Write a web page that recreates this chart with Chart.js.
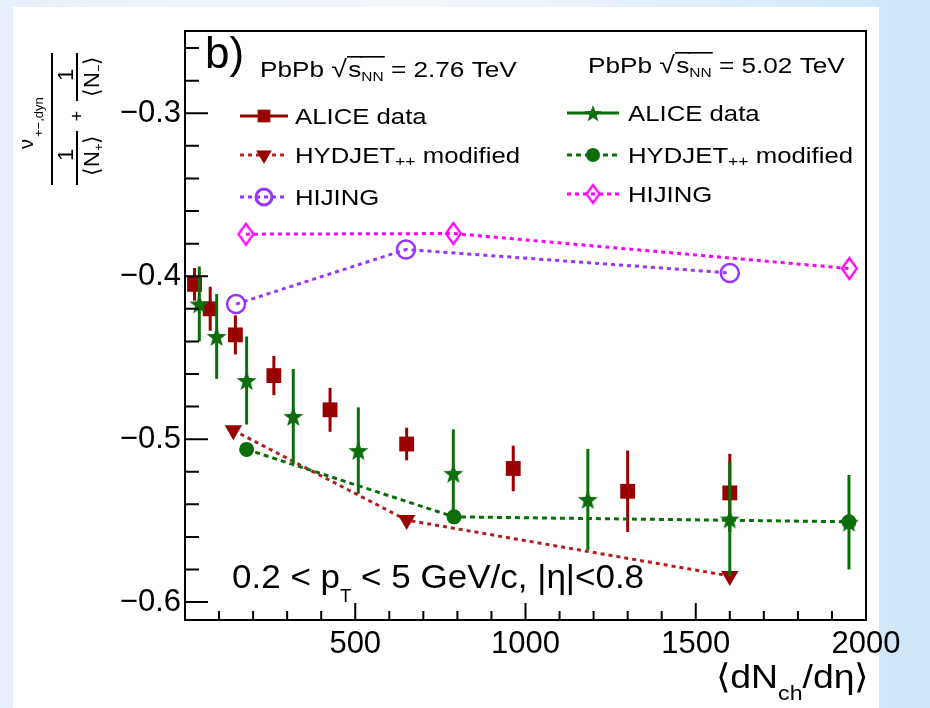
<!DOCTYPE html>
<html>
<head>
<meta charset="utf-8">
<script src="https://cdn.jsdelivr.net/npm/chart.js@4.4.1/dist/chart.umd.min.js"></script>
<style>
  body { margin: 0; width: 930px; height: 708px; position: relative; overflow: hidden;
         background: linear-gradient(90deg, #e6f0fa 0%, #f4f8fd 45%, #cfe6f8 100%); }
  #panel { position: absolute; left: 13px; top: 7px; width: 866px; height: 701px; background: #fff; }
  #chart { position: absolute; left: 0; top: 0; }
</style>
</head>
<body>
<div id="panel"></div>
<canvas id="chart" width="930" height="708"></canvas>
<script>
'use strict';

var FONT = "'Liberation Sans', Arial, sans-serif";

// axes
var xRange = [0, 2000];
var yRange = [-0.611, -0.2495];
var xTicks = [500, 1000, 1500, 2000];
var yTicks = [-0.3, -0.4, -0.5, -0.6];
var xMinorStep = 100;
var yMinorStep = 0.02;

// PbPb 2.76 TeV
var alice276X = [28, 74, 148, 261, 426, 651, 964, 1300, 1600];
var alice276Y = [-0.405, -0.420, -0.436, -0.461, -0.482, -0.503, -0.518, -0.532, -0.533];
var alice276Err = [0.010, 0.0135, 0.012, 0.012, 0.0135, 0.010, 0.014, 0.025, 0.024];
var hydjet276X = [142, 651, 1600];
var hydjet276Y = [-0.4946, -0.5497, -0.5840];
var hijing276X = [150, 649, 1600];
var hijing276Y = [-0.4171, -0.3836, -0.3980];

// PbPb 5.02 TeV
var alice502X = [42, 93, 181, 318, 509, 788, 1183, 1600, 1950];
var alice502Y = [-0.417, -0.437, -0.464, -0.486, -0.507, -0.521, -0.537, -0.549, -0.551];
var alice502Err = [0.023, 0.026, 0.027, 0.029, 0.0265, 0.027, 0.031, 0.035, 0.029];
var hydjet502X = [181, 790, 1950];
var hydjet502Y = [-0.5063, -0.5477, -0.5507];
var hijing502X = [179, 788, 1951];
var hijing502Y = [-0.3742, -0.3738, -0.3953];

var RED = '#990000', GREEN = '#0b6e0b', VIOLET = '#9933ff', MAGENTA = '#ff00ff';

function pts(xs, ys) {
  return xs.map(function(x, i) { return { x: x, y: ys[i] }; });
}

function makeStar(color, r) {
  var c = document.createElement('canvas');
  var s = Math.ceil(r * 2 + 2);
  c.width = s; c.height = s;
  var g = c.getContext('2d');
  g.fillStyle = color;
  g.beginPath();
  for (var i = 0; i < 10; i++) {
    var rr = i % 2 ? r * 0.42 : r;
    var a = -Math.PI / 2 + i * Math.PI / 5;
    g.lineTo(s / 2 + rr * Math.cos(a), s / 2 + 1 + rr * Math.sin(a));
  }
  g.closePath();
  g.fill();
  return c;
}

function makeDiamond(color, w, h) {
  var c = document.createElement('canvas');
  c.width = w + 4; c.height = h + 4;
  var g = c.getContext('2d');
  g.strokeStyle = color;
  g.lineWidth = 2.2;
  g.beginPath();
  g.moveTo(c.width / 2, 2);
  g.lineTo(c.width - 2, c.height / 2);
  g.lineTo(c.width / 2, c.height - 2);
  g.lineTo(2, c.height / 2);
  g.closePath();
  g.stroke();
  return c;
}

var starImg = makeStar(GREEN, 10.5);
var starSmall = makeStar(GREEN, 9);
var diamondImg = makeDiamond(MAGENTA, 15, 21);
var diamondSmall = makeDiamond(MAGENTA, 13, 18);

var datasets = [
  { label: 'HYDJET++ modified 5.02', data: pts(hydjet502X, hydjet502Y), order: 0, showLine: true,
    borderColor: GREEN, backgroundColor: GREEN, borderWidth: 3, borderDash: [5, 4],
    pointStyle: 'circle', pointRadius: 7.5, pointBorderWidth: 0 },
  { label: 'ALICE data 5.02', data: pts(alice502X, alice502Y), errors: alice502Err, order: 1,
    borderColor: GREEN, backgroundColor: GREEN, pointStyle: starImg, pointRadius: 10 },
  { label: 'ALICE data 2.76', data: pts(alice276X, alice276Y), errors: alice276Err, order: 2,
    borderColor: RED, backgroundColor: RED, pointStyle: 'rect', pointRadius: 10.5, pointBorderWidth: 0 },
  { label: 'HYDJET++ modified 2.76', data: pts(hydjet276X, hydjet276Y), order: 3, showLine: true,
    borderColor: '#b01e1e', backgroundColor: RED, pointBorderColor: RED, borderWidth: 3, borderDash: [4, 4],
    pointStyle: 'triangle', pointRotation: 180, pointRadius: 10, pointBorderWidth: 0 },
  { label: 'HIJING 2.76', data: pts(hijing276X, hijing276Y), order: 4, showLine: true,
    borderColor: VIOLET, backgroundColor: 'rgba(0,0,0,0)', borderWidth: 3, borderDash: [4, 4],
    pointStyle: 'circle', pointRadius: 9, pointBorderWidth: 2.5, pointBorderColor: VIOLET },
  { label: 'HIJING 5.02', data: pts(hijing502X, hijing502Y), order: 5, showLine: true,
    borderColor: MAGENTA, backgroundColor: 'rgba(0,0,0,0)', borderWidth: 3, borderDash: [4, 4],
    pointStyle: diamondImg, pointRadius: 10 }
];

// draws text pieces one after another, stretched horizontally by sx
function drawRich(ctx, x, y, parts, sx) {
  ctx.save();
  ctx.translate(x, y);
  ctx.scale(sx || 1, 1);
  ctx.textAlign = 'left';
  ctx.textBaseline = 'alphabetic';
  var cx = 0;
  parts.forEach(function(p) {
    ctx.font = p.size + 'px ' + FONT;
    var w = ctx.measureText(p.t).width;
    ctx.fillText(p.t, cx, p.dy || 0);
    if (p.over !== undefined) ctx.fillRect(cx - 1, p.over, w + 2, 1.6);
    cx += w + (p.gap || 0);
  });
  ctx.restore();
}

function legendEntry(ctx, x0, x1, y, color, dash, marker, text, textX) {
  ctx.save();
  ctx.strokeStyle = color;
  ctx.lineWidth = 3;
  ctx.setLineDash(dash);
  ctx.beginPath();
  ctx.moveTo(x0, y);
  ctx.lineTo(x1, y);
  ctx.stroke();
  ctx.setLineDash([]);
  ctx.fillStyle = marker.fill;
  ctx.strokeStyle = color;
  Chart.helpers.drawPoint(ctx, marker, (x0 + x1) / 2, y);
  ctx.restore();
  ctx.fillStyle = '#000';
  drawRich(ctx, textX, y + 8, text, 1.17);
}

function header(ctx, x, y, energy) {
  drawRich(ctx, x, y, [
    { t: 'PbPb ', size: 22 },
    { t: '\u221A', size: 24, gap: 1 },
    { t: 's', size: 22, over: -21 },
    { t: 'NN', size: 13, dy: 4, over: -21 },
    { t: ' = ' + energy + ' TeV', size: 22 }
  ], 1.19);
}

function drawYTitle(ctx) {
  ctx.save();
  ctx.translate(52, 119);
  ctx.rotate(-Math.PI / 2);
  ctx.fillStyle = '#000';
  ctx.strokeStyle = '#000';
  ctx.lineWidth = 2;
  ctx.beginPath();
  ctx.moveTo(-66, 0); ctx.lineTo(66, 0);
  ctx.moveTo(-66, 25); ctx.lineTo(-12, 25);
  ctx.moveTo(18, 25); ctx.lineTo(66, 25);
  ctx.stroke();
  ctx.textBaseline = 'alphabetic';
  ctx.textAlign = 'left';
  ctx.font = '20px ' + FONT;
  ctx.fillText('\u03BD', -30, -19);
  ctx.font = '13px ' + FONT;
  ctx.fillText('+\u2212,dyn', -18, -9);
  ctx.textAlign = 'center';
  ctx.font = '22px ' + FONT;
  ctx.fillText('1', -36, 21);
  ctx.fillText('1', 44, 21);
  ctx.font = '18px ' + FONT;
  ctx.fillText('+', 3, 31);
  ctx.restore();
  // denominators
  ctx.save();
  ctx.translate(52, 119);
  ctx.rotate(-Math.PI / 2);
  drawRich(ctx, -57, 47, [
    { t: '\u27E8N', size: 22 }, { t: '+', size: 13, dy: 4 }, { t: '\u27E9', size: 22 }
  ], 1);
  drawRich(ctx, 22, 47, [
    { t: '\u27E8N', size: 22 }, { t: '\u2212', size: 13, dy: 4 }, { t: '\u27E9', size: 22 }
  ], 1);
  ctx.restore();
}

var errorBars = {
  id: 'errorBars',
  afterDatasetDraw: function(chart, args) {
    var ds = chart.data.datasets[args.index];
    if (!ds.errors) return;
    var ctx = chart.ctx, xs = chart.scales.x, ys = chart.scales.y;
    ctx.save();
    ctx.strokeStyle = ds.borderColor;
    ctx.lineWidth = 3;
    ds.data.forEach(function(p, i) {
      var px = xs.getPixelForValue(p.x);
      ctx.beginPath();
      ctx.moveTo(px, ys.getPixelForValue(p.y - ds.errors[i]));
      ctx.lineTo(px, ys.getPixelForValue(p.y + ds.errors[i]));
      ctx.stroke();
    });
    ctx.restore();
  }
};

var frame = {
  id: 'frame',
  afterDraw: function(chart) {
    var ctx = chart.ctx, a = chart.chartArea, xs = chart.scales.x, ys = chart.scales.y;
    var v, p;
    ctx.save();
    ctx.strokeStyle = '#000';
    ctx.lineWidth = 2;
    ctx.strokeRect(a.left, a.top, a.right - a.left, a.bottom - a.top);
    ctx.beginPath();
    for (v = xRange[0] + xMinorStep; v < xRange[1]; v += xMinorStep) {
      p = xs.getPixelForValue(v);
      var major = Math.round(v) % 500 === 0;
      ctx.moveTo(p, a.bottom);
      ctx.lineTo(p, a.bottom - (major ? 17 : 9));
    }
    for (v = -0.6; v <= yRange[1]; v += yMinorStep) {
      p = ys.getPixelForValue(v);
      var majorY = Math.abs(Math.round(v * 10) - v * 10) < 1e-6;
      ctx.moveTo(a.left, p);
      ctx.lineTo(a.left + (majorY ? 23 : 14), p);
    }
    ctx.stroke();
    ctx.restore();

    ctx.save();
    ctx.fillStyle = '#000';
    ctx.font = '44px ' + FONT;
    ctx.fillText('b)', 205, 68);
    header(ctx, 260, 77, '2.76');
    header(ctx, 588, 73, '5.02');

    var lx0 = 240, lx1 = 288, ltx = 295;
    legendEntry(ctx, lx0, lx1, 116, RED, [], { pointStyle: 'rect', radius: 9, borderWidth: 0, fill: RED },
      [{ t: 'ALICE data', size: 22 }], ltx);
    legendEntry(ctx, lx0, lx1, 155, '#b01e1e', [4, 4], { pointStyle: 'triangle', rotation: 180, radius: 9, borderWidth: 0, fill: RED },
      [{ t: 'HYDJET', size: 22 }, { t: '++', size: 15, dy: 3 }, { t: ' modified', size: 22 }], ltx);
    legendEntry(ctx, lx0, lx1, 197, VIOLET, [4, 4], { pointStyle: 'circle', radius: 8, borderWidth: 2.5, fill: 'rgba(0,0,0,0)' },
      [{ t: 'HIJING', size: 22 }], ltx);

    var rx0 = 567, rx1 = 619, rtx = 628;
    legendEntry(ctx, rx0, rx1, 113, GREEN, [], { pointStyle: starSmall, radius: 9, borderWidth: 0, fill: GREEN },
      [{ t: 'ALICE data', size: 22 }], rtx);
    legendEntry(ctx, rx0, rx1, 155, GREEN, [5, 4], { pointStyle: 'circle', radius: 7, borderWidth: 0, fill: GREEN },
      [{ t: 'HYDJET', size: 22 }, { t: '++', size: 15, dy: 3 }, { t: ' modified', size: 22 }], rtx);
    legendEntry(ctx, rx0, rx1, 194, MAGENTA, [4, 4], { pointStyle: diamondSmall, radius: 9, borderWidth: 0, fill: MAGENTA },
      [{ t: 'HIJING', size: 22 }], rtx);

    drawRich(ctx, 232, 588, [
      { t: '0.2 < p', size: 34 },
      { t: 'T', size: 18, dy: 14 },
      { t: ' < 5 GeV/c, |\u03B7|<0.8', size: 34 }
    ], 1.03);

    drawRich(ctx, 716, 688, [
      { t: '\u27E8dN', size: 34 },
      { t: 'ch', size: 21, dy: 12 },
      { t: '/d\u03B7\u27E9', size: 34 }
    ], 1.1);

    drawYTitle(ctx);
    ctx.restore();
  }
};

new Chart(document.getElementById('chart'), {
  type: 'scatter',
  data: { datasets: datasets },
  options: {
    responsive: false,
    animation: false,
    devicePixelRatio: 1,
    layout: { padding: { top: 31, right: 64, left: 0, bottom: 0 } },
    plugins: { legend: { display: false }, tooltip: { enabled: false } },
    scales: {
      x: {
        type: 'linear', min: xRange[0], max: xRange[1],
        grid: { display: false, drawTicks: false }, border: { display: false },
        afterFit: function(s) { s.height = 88; },
        afterBuildTicks: function(s) { s.ticks = xTicks.map(function(v) { return { value: v }; }); },
        ticks: { color: '#000', font: { family: FONT, size: 31 }, padding: 6, maxRotation: 0,
                 callback: function(v) { return String(v); } }
      },
      y: {
        type: 'linear', min: yRange[0], max: yRange[1],
        grid: { display: false, drawTicks: false }, border: { display: false },
        afterFit: function(s) { s.width = 185; },
        afterBuildTicks: function(s) { s.ticks = yTicks.map(function(v) { return { value: v }; }); },
        ticks: { color: '#000', font: { family: FONT, size: 31 }, padding: 4,
                 callback: function(v) { return '\u2212' + Math.abs(v).toFixed(1); } }
      }
    }
  },
  plugins: [errorBars, frame]
});
</script>
</body>
</html>
